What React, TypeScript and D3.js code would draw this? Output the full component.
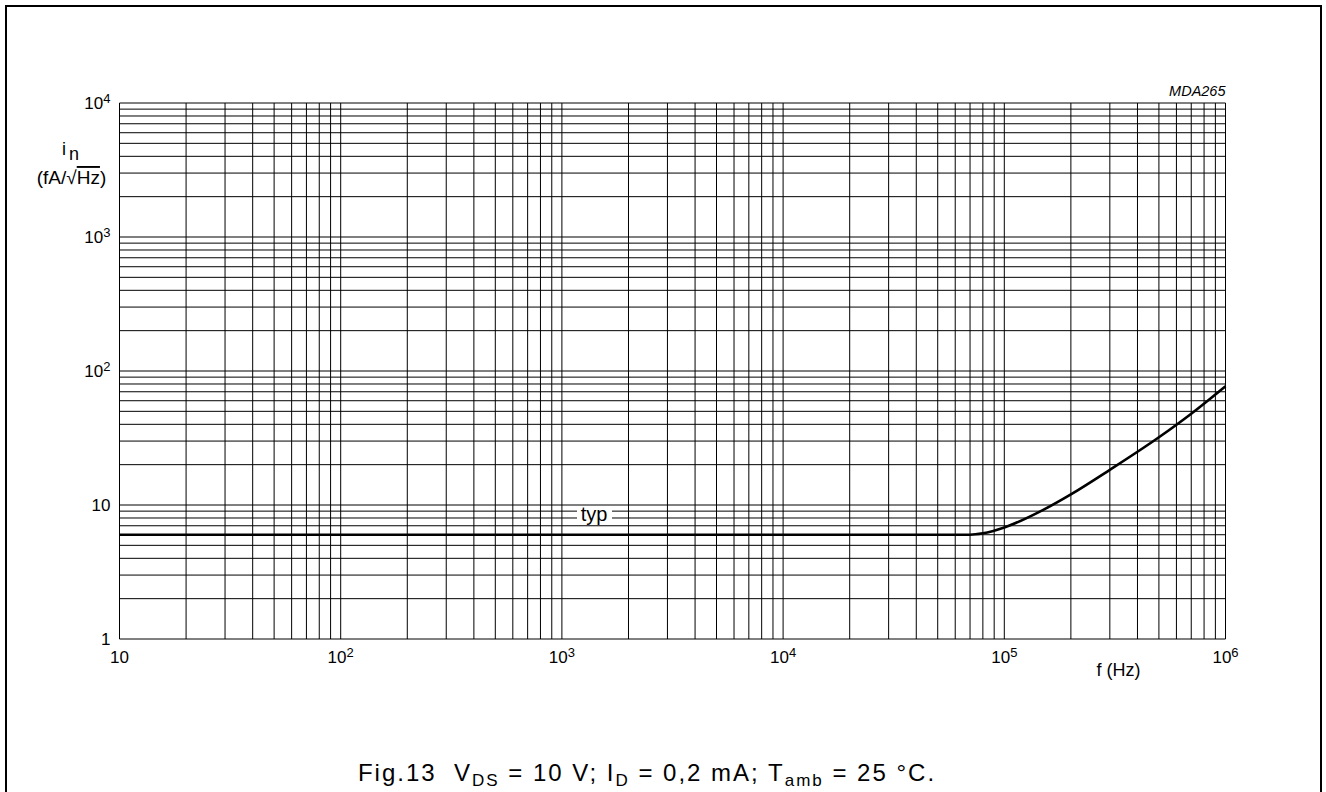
import React from "react";
import * as d3 from "d3";

// typical noise current vs frequency
const freqHz = [10, 1e3, 1e4, 5e4, 7e4, 8e4, 1e5, 1.5e5, 2e5, 3e5, 5e5, 7e5, 1e6];
const noiseTyp = [6, 6, 6, 6, 6, 6.15, 6.8, 9.2, 12, 18.3, 32, 48, 77];

const xTickExps = [1, 2, 3, 4, 5, 6];
const yTickExps = [0, 1, 2, 3, 4];

const FONT = "'Liberation Sans', Arial, Helvetica, sans-serif";

export default function App() {
  const width = 1326;
  const height = 792;
  const plot = { left: 119.5, right: 1225.5, top: 103, bottom: 639 };

  const xScale = d3.scaleLog().domain([10, 1e6]).range([plot.left, plot.right]);
  const yScale = d3.scaleLog().domain([1, 1e4]).range([plot.bottom, plot.top]);

  const xGrid = xScale.ticks();
  const yGrid = yScale.ticks();

  const pts = freqHz.map((f, i) => ({ f, v: noiseTyp[i] }));
  const line = d3
    .line<{ f: number; v: number }>()
    .x((d) => xScale(d.f))
    .y((d) => yScale(d.v))
    .curve(d3.curveMonotoneX);

  const sup = (e: number) =>
    e === 0 ? (
      "1"
    ) : e === 1 ? (
      "10"
    ) : (
      <>
        10
        <tspan dy={-6} fontSize={13}>
          {e}
        </tspan>
      </>
    );

  // "typ" label box
  const typX = 594;
  const typY = yScale(9);

  return (
    <svg
      width={width}
      height={height}
      style={{ position: "absolute", left: 0, top: 0, background: "#fff" }}
      fontFamily={FONT}
    >
      {/* frame */}
      <path d={`M6,${height + 5} V6 H1321 V${height + 5}`} fill="none" stroke="#000" strokeWidth={2} />

      {/* grid */}
      <g stroke="#000" strokeWidth={1}>
        {xGrid.map((t) => (
          <line key={"x" + t} x1={xScale(t)} x2={xScale(t)} y1={plot.top} y2={plot.bottom} />
        ))}
        {yGrid.map((t) => (
          <line key={"y" + t} x1={plot.left} x2={plot.right} y1={yScale(t)} y2={yScale(t)} />
        ))}
      </g>

      {/* curve */}
      <path d={line(pts) ?? ""} fill="none" stroke="#000" strokeWidth={2.6} />

      <rect x={typX - 17} y={typY - 4} width={35} height={17} fill="#fff" />
      <text x={typX} y={typY + 10} fontSize={20} textAnchor="middle">
        typ
      </text>

      {/* y ticks */}
      {yTickExps.map((e) => (
        <text key={"yl" + e} x={plot.left - 9} y={yScale(10 ** e) + 6} fontSize={17} textAnchor="end">
          {sup(e)}
        </text>
      ))}

      {/* x ticks */}
      {xTickExps.map((e) => (
        <text key={"xl" + e} x={xScale(10 ** e)} y={plot.bottom + 24} fontSize={17} textAnchor="middle">
          {sup(e)}
        </text>
      ))}

      {/* axis titles */}
      <text x={1118.5} y={plot.bottom + 37} fontSize={18} textAnchor="middle">
        f (Hz)
      </text>
      <text x={62} y={155} fontSize={18}>
        i
        <tspan dx={3} dy={5}>
          n
        </tspan>
      </text>
      <text x={71.5} y={184} fontSize={19} textAnchor="middle">
        (fA/√<tspan style={{ textDecoration: "overline" }}>Hz</tspan>)
      </text>

      <text x={plot.right} y={96} fontSize={14.5} fontStyle="italic" textAnchor="end">
        MDA265
      </text>

      {/* caption */}
      <text
        x={647}
        y={781}
        fontSize={24}
        textAnchor="middle"
        style={{ whiteSpace: "pre", letterSpacing: "2px" }}
      >
        {"Fig.13  V"}
        <tspan dy={5} fontSize={17}>DS</tspan>
        <tspan dy={-5}>{" = 10 V; I"}</tspan>
        <tspan dy={5} fontSize={17}>D</tspan>
        <tspan dy={-5}>{" = 0,2 mA; T"}</tspan>
        <tspan dy={5} fontSize={17}>amb</tspan>
        <tspan dy={-5}>{" = 25 °C."}</tspan>
      </text>
    </svg>
  );
}
